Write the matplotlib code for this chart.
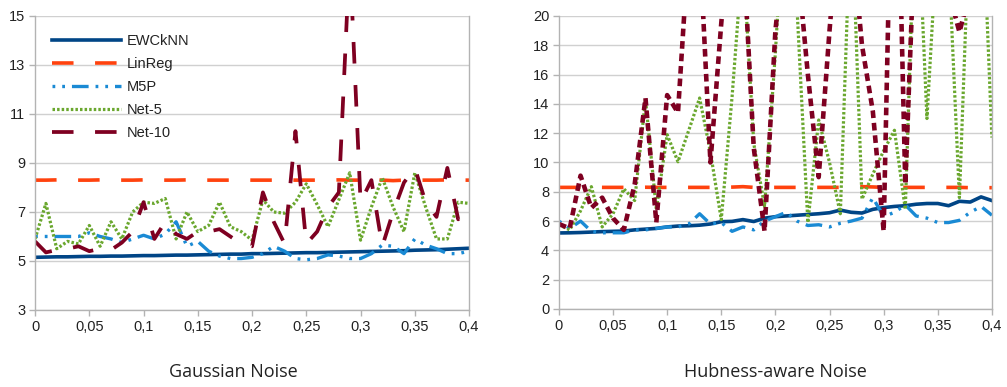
import matplotlib
matplotlib.use("Agg")
import matplotlib.pyplot as plt
from matplotlib.ticker import FixedLocator

plt.rcParams['font.family'] = ['Liberation Sans', 'DejaVu Sans']
plt.rcParams['lines.scale_dashes'] = False

# noise level (x axis)
noise = [0.00, 0.01, 0.02, 0.03, 0.04, 0.05, 0.06, 0.07, 0.08, 0.09,
         0.10, 0.11, 0.12, 0.13, 0.14, 0.15, 0.16, 0.17, 0.18, 0.19,
         0.20, 0.21, 0.22, 0.23, 0.24, 0.25, 0.26, 0.27, 0.28, 0.29,
         0.30, 0.31, 0.32, 0.33, 0.34, 0.35, 0.36, 0.37, 0.38, 0.39, 0.40]

# Gaussian noise
ewcknn_g = [5.15, 5.16, 5.17, 5.17, 5.18, 5.19, 5.19, 5.20, 5.20, 5.21,
            5.22, 5.22, 5.23, 5.24, 5.24, 5.25, 5.26, 5.27, 5.28, 5.28,
            5.30, 5.30, 5.31, 5.32, 5.33, 5.34, 5.34, 5.35, 5.36, 5.37,
            5.38, 5.39, 5.40, 5.41, 5.42, 5.44, 5.45, 5.46, 5.48, 5.50, 5.52]
linreg_g = [8.30, 8.30, 8.31, 8.30, 8.30, 8.30, 8.31, 8.30, 8.30, 8.30,
            8.31, 8.30, 8.30, 8.30, 8.31, 8.30, 8.30, 8.30, 8.30, 8.31,
            8.30, 8.30, 8.30, 8.31, 8.30, 8.30, 8.30, 8.30, 8.31, 8.30,
            8.30, 8.30, 8.30, 8.28, 8.30, 8.30, 8.30, 8.30, 8.31, 8.30, 8.30]
m5p_g = [6.0, 6.0, 6.0, 6.0, 6.0, 6.15, 6.0, 5.9, 5.75, 5.9,
         6.05, 5.9, 6.1, 6.6, 5.6, 5.8, 5.4, 5.2, 5.1, 5.1,
         5.15, 5.3, 5.6, 5.4, 5.1, 5.05, 5.1, 5.25, 5.2, 5.1,
         5.1, 5.3, 5.65, 5.6, 5.3, 5.9, 5.65, 5.5, 5.3, 5.3, 5.4]
net5_g = [5.9, 7.35, 5.5, 5.8, 5.7, 6.45, 5.6, 6.6, 5.9, 7.0,
          7.4, 7.35, 7.55, 5.9, 7.0, 6.2, 6.45, 7.4, 6.4, 6.2,
          5.85, 7.5, 7.0, 6.95, 7.4, 8.15, 7.3, 6.4, 7.5, 8.6,
          5.85, 7.2, 8.4, 7.2, 6.2, 8.6, 7.2, 5.9, 5.9, 7.4, 7.35]
net10_g = [5.8, 5.35, 5.45, 5.5, 5.6, 5.4, 5.5, 5.45, 5.75, 6.2,
           7.4, 5.9, 6.6, 6.1, 5.9, 6.2, 6.2, 6.3, 6.0, 5.7,
           5.6, 7.8, 6.6, 5.7, 10.3, 5.7, 6.2, 7.2, 7.8, 17.5,
           7.4, 8.3, 5.6, 7.0, 8.2, 8.8, 7.4, 6.8, 8.8, 6.7, 7.4]

# Hubness-aware noise
ewcknn_h = [5.19, 5.20, 5.22, 5.25, 5.28, 5.30, 5.32, 5.40, 5.45, 5.50,
            5.60, 5.66, 5.68, 5.72, 5.80, 5.96, 5.98, 6.10, 5.97, 6.20,
            6.30, 6.35, 6.40, 6.45, 6.50, 6.57, 6.75, 6.60, 6.55, 6.80,
            6.92, 7.00, 7.05, 7.15, 7.20, 7.20, 7.05, 7.35, 7.30, 7.65, 7.40]
linreg_h = [8.30, 8.30, 8.30, 8.31, 8.30, 8.30, 8.30, 8.30, 8.31, 8.30,
            8.30, 8.30, 8.30, 8.30, 8.30, 8.30, 8.32, 8.35, 8.30, 8.30,
            8.30, 8.30, 8.30, 8.30, 8.30, 8.30, 8.30, 8.32, 8.35, 8.33,
            8.30, 8.30, 8.30, 8.30, 8.30, 8.30, 8.30, 8.30, 8.28, 8.28, 8.28]
m5p_h = [6.0, 5.5, 6.0, 5.3, 5.2, 5.2, 5.2, 5.4, 5.4, 5.5,
         5.6, 5.6, 5.8, 6.5, 5.8, 5.9, 5.3, 5.6, 5.4, 6.0,
         6.3, 6.6, 6.0, 5.7, 5.75, 5.6, 5.85, 6.0, 6.2, 7.6,
         6.3, 6.6, 7.1, 6.35, 6.2, 5.9, 5.9, 6.05, 6.6, 7.0, 6.4]
net5_h = [5.75, 5.4, 6.7, 8.35, 5.6, 6.5, 8.2, 7.4, 14.3, 6.8,
          11.9, 10.05, 12.2, 14.4, 10.7, 6.1, 14.5, 24.3, 11.3, 7.0,
          17.5, 30.0, 20.5, 5.9, 12.9, 10.0, 6.5, 28.0, 7.5, 9.2,
          10.8, 12.2, 6.8, 30.0, 13.0, 26.0, 24.0, 7.6, 28.0, 30.0, 11.7]
net10_h = [5.8, 5.5, 9.1, 6.9, 7.6, 6.2, 5.4, 8.5, 14.4, 5.9,
           14.6, 13.4, 25.0, 25.0, 10.0, 19.5, 28.0, 25.0, 11.0, 5.3,
           19.0, 26.0, 24.0, 16.0, 9.0, 19.0, 28.0, 26.0, 18.0, 13.5,
           5.3, 40.0, 8.5, 28.0, 30.0, 30.0, 21.7, 18.9, 21.7, 30.0, 30.0]

x_ticks = [0, 0.05, 0.1, 0.15, 0.2, 0.25, 0.3, 0.35, 0.4]
x_labels = ['0', '0,05', '0,1', '0,15', '0,2', '0,25', '0,3', '0,35', '0,4']

c_ewc = '#004586'
c_lin = '#ff420e'
c_m5p = '#1a8ad4'
c_net5 = '#6aa72e'
c_net10 = '#7e0021'
grid_c = '#d0d0d0'

fig = plt.figure(figsize=(10.07, 3.87), dpi=100)
ax1 = fig.add_axes([0.0348, 0.199, 0.431, 0.7597])
ax2 = fig.add_axes([0.555, 0.2016, 0.430, 0.7571])


def style_axis(ax, ymin, ymax, yticks):
    ax.set_xlim(0, 0.4)
    ax.set_ylim(ymin, ymax)
    ax.xaxis.set_major_locator(FixedLocator(x_ticks))
    ax.set_xticklabels(x_labels)
    ax.yaxis.set_major_locator(FixedLocator(yticks))
    ax.grid(axis='y', color=grid_c, linewidth=1.0)
    ax.set_axisbelow(True)
    for s in ax.spines.values():
        s.set_color('#b3b3b3')
        s.set_linewidth(1.0)
    ax.spines['top'].set_visible(False)
    ax.tick_params(axis='both', colors='#b3b3b3', length=4, width=1.0,
                   labelcolor='#222222', labelsize=10.5, pad=3)


# Gaussian noise panel
ax1.plot(noise, ewcknn_g, color=c_ewc, lw=2.6, label='EWCkNN')
ax1.plot(noise, linreg_g, color=c_lin, lw=2.6, dashes=(15.5, 15.5), label='LinReg')
ax1.plot(noise, m5p_g, color=c_m5p, lw=2.4, dashes=(2, 5, 2, 5, 12, 5), label='M5P')
ax1.plot(noise, net5_g, color=c_net5, lw=2.3, dashes=(1.8, 1.5), label='Net-5')
ax1.plot(noise, net10_g, color=c_net10, lw=2.7, dashes=(15.5, 15.5), label='Net-10')
style_axis(ax1, 3, 15, [3, 5, 7, 9, 11, 13, 15])

leg = ax1.legend(loc='upper left', bbox_to_anchor=(0.039, 0.94), frameon=False,
                 handlelength=4.7, handletextpad=0.4, labelspacing=0.62,
                 borderpad=0, borderaxespad=0, fontsize=10.5)
for t in leg.get_texts():
    t.set_color('#222222')

# Hubness-aware noise panel
ax2.plot(noise, ewcknn_h, color=c_ewc, lw=2.6)
ax2.plot(noise, linreg_h, color=c_lin, lw=2.6, dashes=(15.5, 15.5))
ax2.plot(noise, m5p_h, color=c_m5p, lw=2.4, dashes=(2, 5, 2, 5, 12, 5))
ax2.plot(noise, net5_h, color=c_net5, lw=2.3, dashes=(1.8, 1.5))
ax2.plot(noise, net10_h, color=c_net10, lw=3.3, dashes=(5.5, 3.5))
style_axis(ax2, 0, 20, [0, 2, 4, 6, 8, 10, 12, 14, 16, 18, 20])

fig.text(0.232, 0.038, 'Gaussian Noise', ha='center', va='center',
         fontsize=13, family=['Open Sans', 'DejaVu Sans'], color='#222222')
fig.text(0.770, 0.038, 'Hubness-aware Noise', ha='center', va='center',
         fontsize=13, family=['Open Sans', 'DejaVu Sans'], color='#222222')

fig.savefig('out.png', dpi=100)
